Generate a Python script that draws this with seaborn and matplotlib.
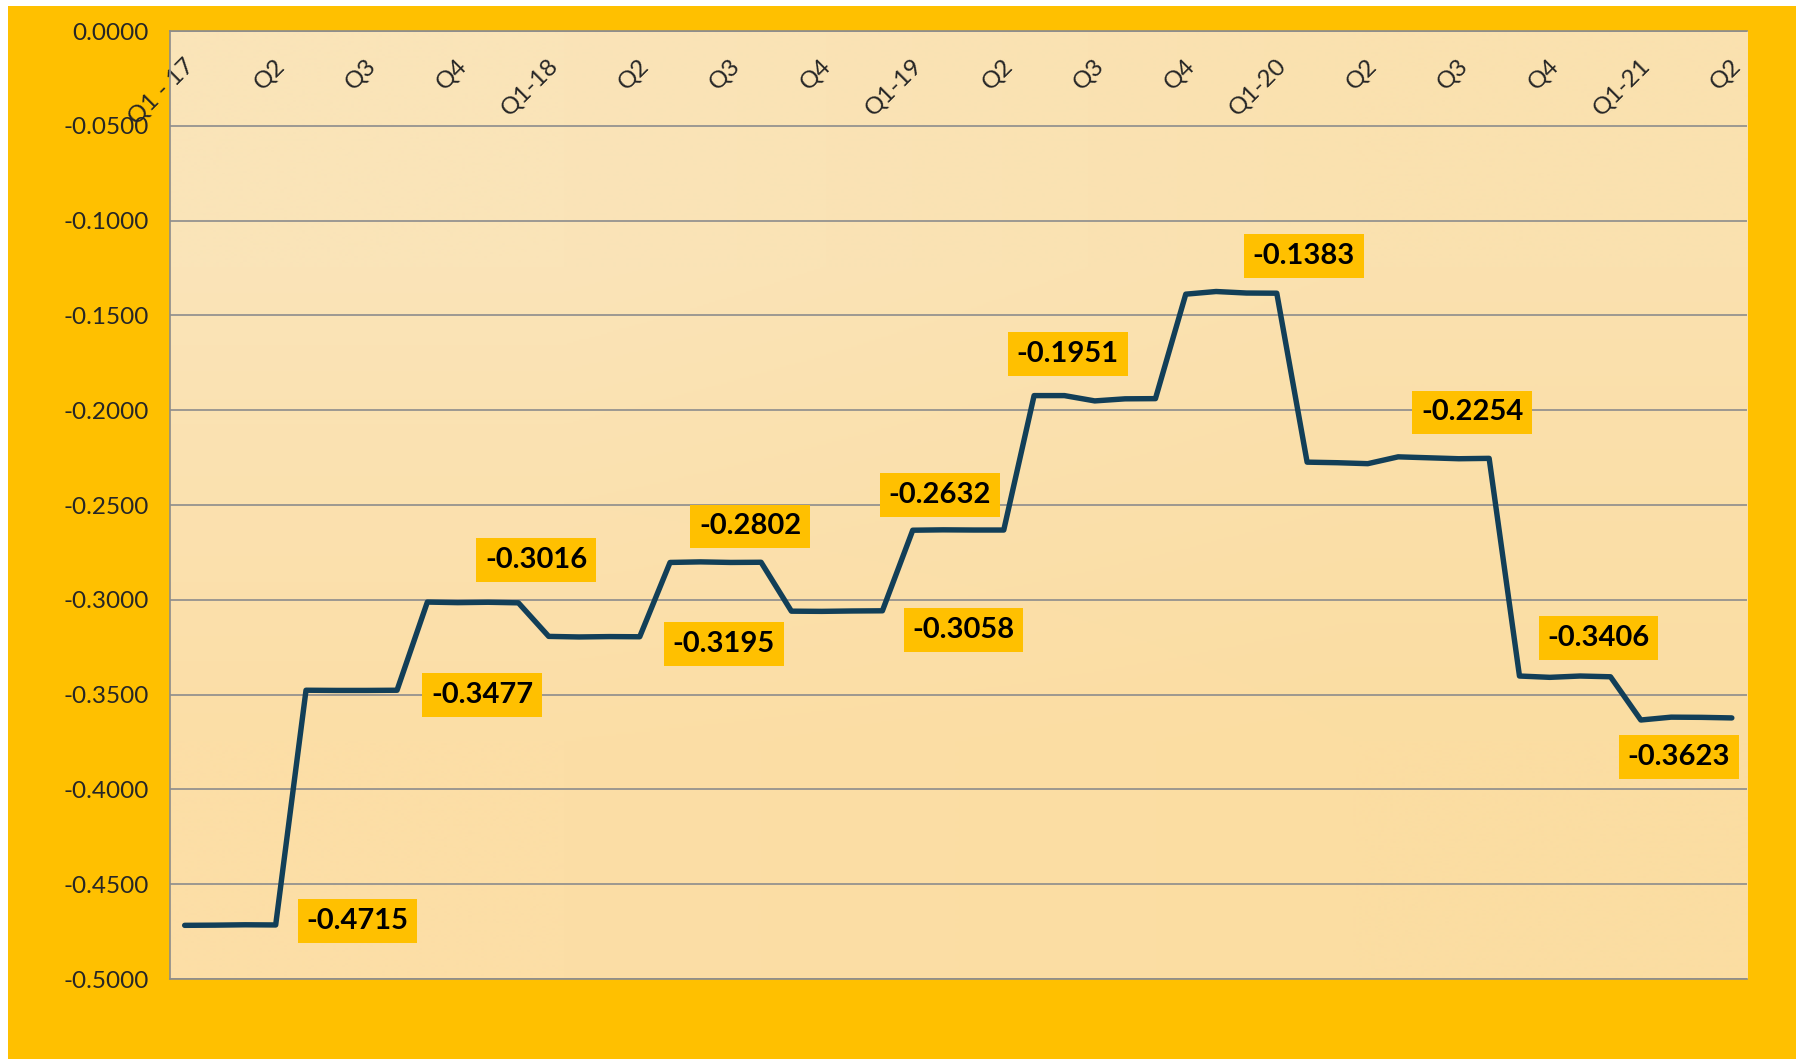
# ============================================================
# LIBRERÍAS
# ============================================================
import numpy as np
import matplotlib
matplotlib.use("Agg")
import matplotlib.pyplot as plt
import matplotlib.transforms as mtransforms
from matplotlib.patches import Rectangle
from matplotlib.colors import to_rgb
import seaborn as sns

sns.set_style("white")
plt.rcParams['font.family'] = ['Lato', 'DejaVu Sans']

# ============================================================
# DATOS (valores mensuales)
# ============================================================
valores = [
    -0.4717, -0.4716, -0.4714, -0.4715,
    -0.3477, -0.3478, -0.3478, -0.3477,
    -0.3012, -0.3015, -0.3013, -0.3016,
    -0.3193, -0.3196, -0.3194, -0.3195,
    -0.2803, -0.2800, -0.2803, -0.2802,
    -0.3060, -0.3061, -0.3059, -0.3058,
    -0.2633, -0.2631, -0.2632, -0.2632,
    -0.1923, -0.1923, -0.1951, -0.1940, -0.1939,
    -0.1388, -0.1374, -0.1382, -0.1383,
    -0.2274, -0.2277, -0.2282, -0.2246, -0.2251, -0.2256, -0.2254,
    -0.3402, -0.3409, -0.3402, -0.3406,
    -0.3634, -0.3619, -0.3620, -0.3623,
]
indice = np.arange(len(valores))

trimestres = ["Q1 - 17", "Q2", "Q3", "Q4",
              "Q1-18", "Q2", "Q3", "Q4",
              "Q1-19", "Q2", "Q3", "Q4",
              "Q1-20", "Q2", "Q3", "Q4",
              "Q1-21", "Q2"]
pos_trimestres = indice[::3]

# puntos etiquetados y desplazamiento de la etiqueta (pixeles)
idx_etiquetas = [3, 7, 11, 15, 19, 23, 27, 30, 36, 43, 47, 51]
desp_etiquetas = [(82, 4), (85, -5), (18, 43), (84, -7), (-11, 36), (81, -19),
                  (-64, 35), (-27, 47), (27, 37), (-17, 46), (-12, 39), (-53, -39)]

ORO = "#FFC000"
LINEA = "#123F58"
GRIS = "#8C8C8C"

# ============================================================
# FIGURA
# ============================================================
fig = plt.figure(figsize=(17.96, 10.59), dpi=100)
fig.patch.set_facecolor("white")
fig.patches.append(Rectangle((8 / 1796, 0), 1, 1 - 6 / 1059, transform=fig.transFigure,
                             facecolor=ORO, edgecolor="none", zorder=-10))

ax = fig.add_axes([169.5 / 1796, 1 - 979 / 1059, (1747 - 169.5) / 1796, (979 - 31) / 1059])
ax.set_facecolor("none")

# fondo degradado del área de trazado
grad = np.array([[to_rgb("#FAE4B8"), to_rgb("#FAE1AF")],
                 [to_rgb("#FCDEA6"), to_rgb("#FBDDA2")]])
ax.imshow(grad, extent=[0, 1, 0, 1], transform=ax.transAxes, aspect="auto",
          interpolation="bilinear", zorder=0)

sns.lineplot(x=indice, y=valores, ax=ax, color=LINEA, linewidth=3.9,
             solid_capstyle="round", solid_joinstyle="round", zorder=3)

ax.set_xlim(-0.5, len(valores) - 0.5)
ax.set_ylim(-0.5, 0.0)

# eje Y
ax.set_yticks(np.arange(-0.5, 0.001, 0.05))
ax.yaxis.set_major_formatter(matplotlib.ticker.FuncFormatter(
    lambda v, p: f"{v:.4f}".replace("-0.0000", "0.0000")))
ax.tick_params(axis="y", labelsize=17.5, length=7, width=1.2, color=GRIS, pad=8)
ax.grid(axis="y", color=GRIS, linewidth=1.2, zorder=1)
ax.grid(axis="x", visible=False)

# eje X: etiquetas arriba, dentro del área
ax.set_xticks(pos_trimestres)
ax.set_xticklabels(trimestres, rotation=45, ha="right", va="top")
ax.tick_params(axis="x", top=True, labeltop=True, bottom=False, labelbottom=False,
               length=0, labelsize=17.5, pad=-17)
desplaza = mtransforms.ScaledTranslation(13 / 100, 0, fig.dpi_scale_trans)
for lbl in ax.get_xticklabels():
    lbl.set_transform(lbl.get_transform() + desplaza)

for lado in ["left", "bottom", "top"]:
    ax.spines[lado].set_color(GRIS)
    ax.spines[lado].set_linewidth(1.2)
ax.spines["right"].set_visible(False)
ax.set_xlabel("")
ax.set_ylabel("")

# etiquetas de datos
for i, (dx, dy) in zip(idx_etiquetas, desp_etiquetas):
    ax.annotate(f"{valores[i]:.4f}", xy=(indice[i], valores[i]), xytext=(dx, dy),
                textcoords="offset pixels", ha="center", va="center",
                fontsize=21, fontweight="bold", color="black", zorder=5,
                bbox=dict(boxstyle="square,pad=0.3", facecolor=ORO, edgecolor="none"))

plt.savefig("out.png", dpi=100, facecolor=fig.get_facecolor())
